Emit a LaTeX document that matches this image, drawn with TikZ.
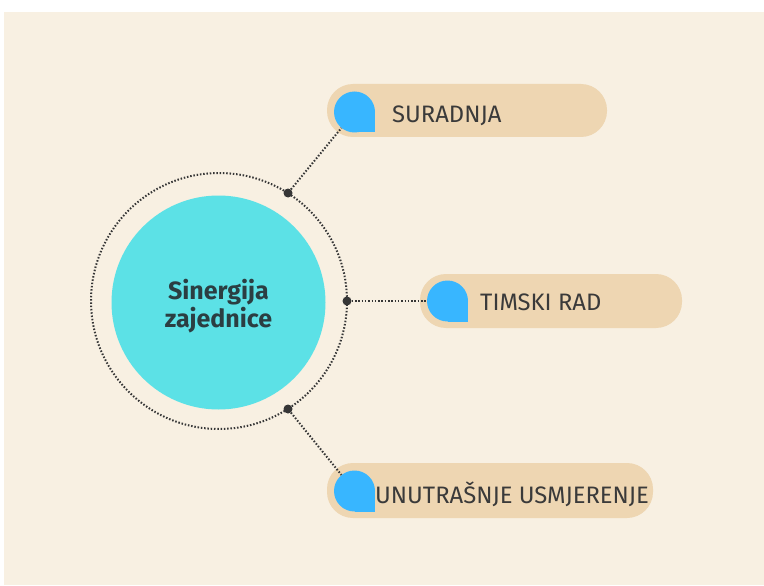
\documentclass[tikz,border=0pt]{standalone}
\usepackage{fontspec}
\setmainfont{Fira Sans}
\definecolor{bgc}{HTML}{F8F0E2}
\definecolor{pillc}{HTML}{EED6B2}
\definecolor{bluec}{HTML}{38B6FF}
\definecolor{cyanc}{HTML}{5CE1E6}
\definecolor{txtc}{HTML}{3A3A3A}
\definecolor{ctxt}{HTML}{2B3E42}
\definecolor{dotc}{HTML}{363636}
\begin{document}
\begin{tikzpicture}[x=1pt,y=-1pt,
  pill/.style={fill=pillc, rounded corners=26pt, inner sep=0pt},
  bluedot/.style={circle, fill=bluec, minimum size=41pt, inner sep=0pt},
  dotline/.style={draw=dotc, line width=2pt, dash pattern=on 1.5pt off 1.8pt},
  knob/.style={circle, fill=dotc, minimum size=9pt, inner sep=0pt},
  label/.style={anchor=base west, text=txtc, font=\fontsize{23.8}{28}\selectfont, inner sep=0pt}]
\useasboundingbox (0,0) rectangle (764,586);
\fill[white] (0,0) rectangle (764,586);
\fill[bgc] (4,12) rectangle (764,585);
% pills
\fill[pill] (327,84) rectangle (607,137);
\fill[pill] (420,274) rectangle (682,328);
\fill[pill] (327,463) rectangle (653,518);
% blue markers
\node[bluedot] (b1) at (354.5,112) {};
\fill[bluec] (354.5,112) rectangle (375,132.5);
\node[bluedot] (b2) at (447.5,301) {};
\fill[bluec] (447.5,301) rectangle (468,321.5);
\node[bluedot] (b3) at (354.5,491) {};
\fill[bluec] (354.5,491) rectangle (375,511.5);
% texts
\node[label] (t1) at (392,123) {SURADNJA};
\node[label] (t2) at (480,310) {TIMSKI RAD};
\node[label] (t3) at (375,503) {UNUTRAŠNJE USMJERENJE};
% ring and circle
\draw[dotline] (219,301) circle (128);
\node[circle, fill=cyanc, minimum size=214pt, inner sep=0pt] (c) at (218.5,302.5) {};
\node[text=ctxt, font=\bfseries\fontsize{25}{28}\selectfont, align=center] (ct) at (218.5,306) {Sinergija\\zajednice};
% knobs
\node[knob] (k1) at (288,193) {};
\node[knob] (k2) at (347,301) {};
\node[knob] (k3) at (288,409) {};
\draw[dotline] (k1) -- (b1);
\draw[dotline] (k2) -- (b2);
\draw[dotline] (k3) -- (b3);
\end{tikzpicture}
\end{document}
